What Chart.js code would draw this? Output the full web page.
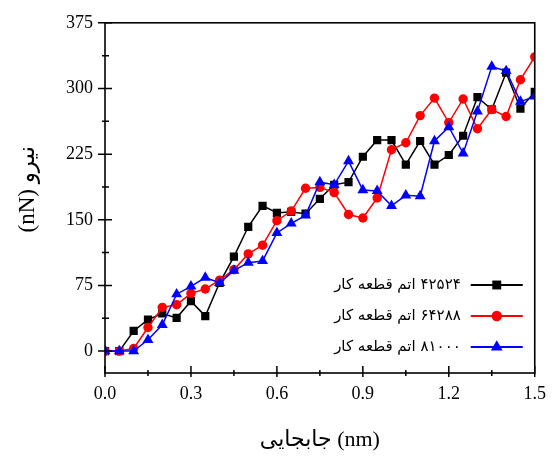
<!DOCTYPE html>
<html><head><meta charset="utf-8">
<script src="https://cdn.jsdelivr.net/npm/chart.js@4.4.1/dist/chart.umd.min.js"></script>
<style>html,body{margin:0;padding:0;background:#fff}</style>
</head><body>
<canvas id="c" width="556" height="465"></canvas>
<script>
const displacement = [0,0.05,0.1,0.15,0.2,0.25,0.3,0.35,0.4,0.45,0.5,0.55,0.6,0.65,0.7,0.75,0.8,0.85,0.9,0.95,1.0,1.05,1.1,1.15,1.2,1.25,1.3,1.35,1.4,1.45,1.5];
const force42524 = [0,0,23,36,43,38,57,40,78,108,142,166,158,159,157,174,190,193,222,241,241,213,240,213,224,246,290,276,318,277,296];
const force64288 = [0,0,3,27,50,53,66,71,81,93,111,121,149,160,186,187,181,156,152,175,230,238,269,289,261,288,254,276,268,310,336];
const force81000 = [0,0,0,13,30,65,74,84,78,92,101,103,135,146,155,193,190,217,184,183,166,178,177,240,256,226,274,325,320,285,291];
const seriesLabels = ['۴۲۵۲۴ اتم قطعه کار','۶۴۲۸۸ اتم قطعه کار','۸۱۰۰۰ اتم قطعه کار'];
const xTickValues = [0,0.3,0.6,0.9,1.2,1.5];
const xMinorTicks = [0.15,0.45,0.75,1.05,1.35];
const yTickValues = [0,75,150,225,300,375];
const yMinorTicks = [37.5,112.5,187.5,262.5,337.5];
const xTitle = 'جابجایی (nm)';
const yTitle = '   (nN) نیرو';

const serif = "'Liberation Serif','Times New Roman','DejaVu Sans',serif";

function pts(arr){ return displacement.map((x,i)=>({x:x,y:arr[i]})); }

function drawMarker(ctx, style, r, x, y){
  ctx.beginPath();
  if(style==='rect'){ const s=Math.SQRT1_2*r; ctx.rect(x-s,y-s,2*s,2*s); }
  else if(style==='circle'){ ctx.arc(x,y,r,0,Math.PI*2); }
  else if(style==='triangle'){
    let a=0; ctx.moveTo(x+Math.sin(a)*r,y-Math.cos(a)*r);
    a+=2*Math.PI/3; ctx.lineTo(x+Math.sin(a)*r,y-Math.cos(a)*r);
    a+=2*Math.PI/3; ctx.lineTo(x+Math.sin(a)*r,y-Math.cos(a)*r);
    ctx.closePath();
  }
  ctx.fill();
}

const framePlugin = {
  id:'frame',
  afterDraw(chart){
    const {ctx, chartArea:a} = chart;
    const x = chart.scales.x, y = chart.scales.y;
    ctx.save();
    ctx.strokeStyle='#000'; ctx.lineWidth=1.6;
    ctx.strokeRect(a.left,a.top,a.right-a.left,a.bottom-a.top);
    ctx.lineWidth=1.5;
    ctx.beginPath();
    yTickValues.forEach(v=>{const p=y.getPixelForValue(v); ctx.moveTo(a.left-7,p); ctx.lineTo(a.left+7,p);});
    yMinorTicks.forEach(v=>{const p=y.getPixelForValue(v); ctx.moveTo(a.left-3,p); ctx.lineTo(a.left+4,p);});
    xTickValues.forEach(v=>{const p=x.getPixelForValue(v); ctx.moveTo(p,a.bottom+4); ctx.lineTo(p,a.bottom-7);});
    xMinorTicks.forEach(v=>{const p=x.getPixelForValue(v); ctx.moveTo(p,a.bottom+3); ctx.lineTo(p,a.bottom-3);});
    ctx.stroke();
    // legend
    chart.data.datasets.forEach((ds,i)=>{
      const ly = a.bottom - 88 + i*31;
      const x1 = a.right - 64, x2 = a.right - 12;
      ctx.strokeStyle = ds.borderColor; ctx.lineWidth = 1.8;
      ctx.beginPath(); ctx.moveTo(x1,ly); ctx.lineTo(x2,ly); ctx.stroke();
      ctx.fillStyle = ds.backgroundColor;
      drawMarker(ctx, ds.pointStyle, ds.pointRadius+0.5, (x1+x2)/2, ly);
      ctx.fillStyle = '#000';
      ctx.direction = 'rtl';
      ctx.textAlign = 'right';
      ctx.textBaseline = 'middle';
      ctx.font = "15px 'DejaVu Sans'";
      ctx.fillText(ds.label, x1 - 10, ly);
    });
    ctx.restore();
  }
};

new Chart(document.getElementById('c'), {
  type:'line',
  data:{ datasets:[
    {label:seriesLabels[0], data:pts(force42524), borderColor:'#000000', backgroundColor:'#000000', pointStyle:'rect', pointRadius:5.8, pointBorderWidth:0, borderWidth:1.5, order:3},
    {label:seriesLabels[1], data:pts(force64288), borderColor:'#ff0000', backgroundColor:'#ff0000', pointStyle:'circle', pointRadius:4.7, pointBorderWidth:0, borderWidth:1.5, order:2},
    {label:seriesLabels[2], data:pts(force81000), borderColor:'#0000ff', backgroundColor:'#0000ff', pointStyle:'triangle', pointRadius:6.3, pointBorderWidth:0, borderWidth:1.5, order:1}
  ]},
  options:{
    responsive:false, animation:false, devicePixelRatio:1,
    layout:{padding:{top:17,right:17,left:0,bottom:0}},
    plugins:{legend:{display:false}, tooltip:{enabled:false}},
    elements:{line:{tension:0}},
    scales:{
      x:{type:'linear', min:0, max:1.5,
        grid:{display:false, drawTicks:false}, border:{display:false},
        afterBuildTicks:s=>{s.ticks = xTickValues.map(v=>({value:v}));},
        afterFit:s=>{s.height=92;},
        ticks:{autoSkip:false, maxRotation:0, padding:10, color:'#000', font:{family:serif,size:18}, callback:v=>Number(v).toFixed(1)},
        title:{display:true, text:xTitle, color:'#000', font:{family:serif,size:22}, padding:{top:0,bottom:12}}
      },
      y:{type:'linear', min:-25, max:375,
        grid:{display:false, drawTicks:false}, border:{display:false},
        afterBuildTicks:s=>{s.ticks = yTickValues.map(v=>({value:v}));},
        afterFit:s=>{s.width=105;},
        ticks:{autoSkip:false, padding:12, color:'#000', font:{family:serif,size:18}, callback:v=>String(v)},
        title:{display:true, text:yTitle, color:'#000', font:{family:serif,size:23}, padding:{top:14,bottom:0}}
      }
    }
  },
  plugins:[framePlugin]
});
</script>
</body></html>
